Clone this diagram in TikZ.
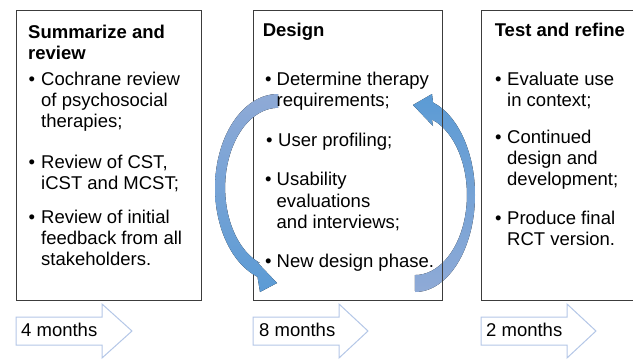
\documentclass[tikz,border=0pt]{standalone}
\usepackage{fontspec}
\setmainfont{Liberation Sans}
\usepackage{tikz}
\usetikzlibrary{calc}

\definecolor{boxline}{RGB}{60,60,60}
\definecolor{monthline}{RGB}{180,199,231}
\definecolor{loopdark}{RGB}{91,155,213}
\definecolor{looplight}{RGB}{143,170,214}

\tikzset{
  txt/.style={anchor=base west, inner sep=0pt, font=\fontsize{18.5}{21}\selectfont},
  ttl/.style={txt, font=\fontsize{18.5}{21}\selectfont\bfseries},
  phase/.style={draw=boxline, line width=1pt},
  months/.style={draw=monthline, fill=white, line width=1pt, line join=miter}
}

\begin{document}
\begin{tikzpicture}[x=1pt,y=1pt]

	\useasboundingbox (0,0) rectangle (633,360);
	\clip (0,0) rectangle (633,360);

	% right loop arrow, under the box line
	\fill[top color=loopdark, bottom color=looplight] (415,68) arc[start angle=-90, end angle=72.5, x radius=60, y radius=97] -- (432,266) -- (413,255) -- (433,234) -- (431.9,240.6) arc[start angle=71, end angle=-90, x radius=52, y radius=80] -- cycle;

	% phase boxes
	\draw[phase] (16,60) rectangle (201,350);
	\draw[phase] (253,60) rectangle (442,350);
	\draw[phase] (481,60) rectangle (650,350);

	% left loop arrow, over the box line
	\fill[top color=looplight, bottom color=loopdark] (278,266) arc[start angle=90, end angle=251, x radius=63, y radius=94] -- (260,68) -- (277,77) -- (257,98) -- (260,97) arc[start angle=250, end angle=90, x radius=53, y radius=80] -- cycle;

	% month arrows
	\draw[months] (16,43) -- (102,43) -- (102,56) -- (132,29) -- (102,2) -- (102,15) -- (16,15) -- cycle;
	\draw[months] (253,43) -- (339,43) -- (339,56) -- (368,29) -- (339,2) -- (339,15) -- (253,15) -- cycle;
	\draw[months] (481,43) -- (567,43) -- (567,56) -- (596,29) -- (567,2) -- (567,15) -- (481,15) -- cycle;
	\node[txt] (m1) at (21,23.5) {4 months};
	\node[txt] (m2) at (259,23.5) {8 months};
	\node[txt] (m3) at (486,23.5) {2 months};

	% summarize and review
	\node[ttl] (sumt1) at (28,322) {Summarize and};
	\node[ttl] (sumt2) at (28,301) {review};
	\node[txt] (sumb1) at (28.5,275) {•};
	\node[txt] (sum1a) at (41,275) {Cochrane review};
	\node[txt] (sum1b) at (41,254) {of psychosocial};
	\node[txt] (sum1c) at (41,233) {therapies;};
	\node[txt] (sumb2) at (28.5,192) {•};
	\node[txt] (sum2a) at (41,192) {Review of CST,};
	\node[txt] (sum2b) at (41,171) {iCST and MCST;};
	\node[txt] (sumb3) at (28.5,137) {•};
	\node[txt] (sum3a) at (41,137) {Review of initial};
	\node[txt] (sum3b) at (41,116) {feedback from all};
	\node[txt] (sum3c) at (41,95) {stakeholders.};

	% design
	\node[ttl] (dest) at (262.6,323.5) {Design};
	\node[txt] (desb1) at (265,275) {•};
	\node[txt] (des1a) at (276.5,275) {Determine therapy};
	\node[txt] (des1b) at (276.5,254) {requirements;};
	\node[txt] (desb2) at (266,214) {•};
	\node[txt] (des2a) at (278,214) {User profiling;};
	\node[txt] (desb3) at (265,175) {•};
	\node[txt] (des3a) at (276.5,175) {Usability};
	\node[txt] (des3b) at (276.5,153) {evaluations};
	\node[txt] (des3c) at (276.5,132) {and interviews;};
	\node[txt] (desb4) at (265,93) {•};
	\node[txt] (des4a) at (276.5,93) {New design phase.};

	% test and refine
	\node[ttl] (tstt) at (494.6,323.5) {Test and refine};
	\node[txt] (tstb1) at (495,275) {•};
	\node[txt] (tst1a) at (507,275) {Evaluate use};
	\node[txt] (tst1b) at (507,254) {in context;};
	\node[txt] (tstb2) at (495,217) {•};
	\node[txt] (tst2a) at (507,217) {Continued};
	\node[txt] (tst2b) at (507,196) {design and};
	\node[txt] (tst2c) at (507,175) {development;};
	\node[txt] (tstb3) at (495,136) {•};
	\node[txt] (tst3a) at (507,136) {Produce final};
	\node[txt] (tst3b) at (507,115) {RCT version.};

\end{tikzpicture}
\end{document}
